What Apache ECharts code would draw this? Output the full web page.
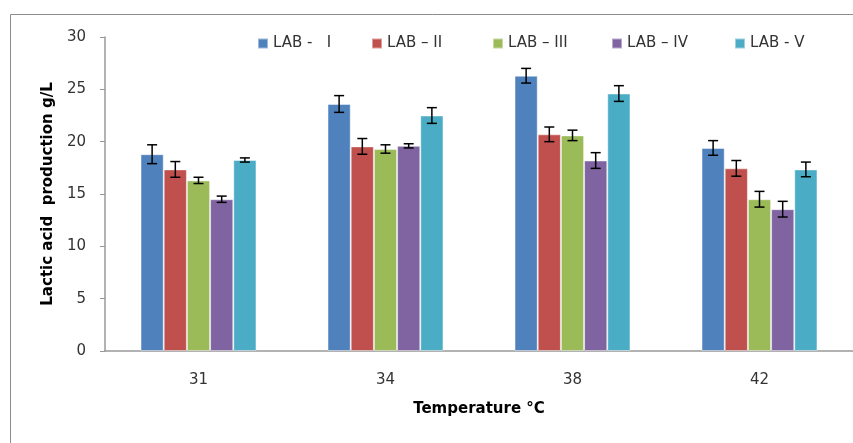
<!DOCTYPE html>
<html>
<head>
<meta charset="utf-8">
<script src="https://cdn.jsdelivr.net/npm/echarts@6/dist/echarts.min.js"></script>
<style>
  html, body { margin: 0; padding: 0; background: #fff; }
  #my-charts { width: 853px; height: 443px; }
</style>
</head>
<body>
<div id="my-charts"></div>
<script>
var temps = ['31', '34', '38', '42']
var labNames = ['LAB -   I', 'LAB \u2013 II', 'LAB \u2013 III', 'LAB \u2013 IV', 'LAB - V']
var labColors = ['#4F81BD', '#C0504D', '#9BBB59', '#8064A2', '#4BACC6']

var lab1 = [18.8, 23.6, 26.3, 19.4]
var lab2 = [17.35, 19.55, 20.7, 17.45]
var lab3 = [16.3, 19.3, 20.6, 14.5]
var lab4 = [14.5, 19.6, 18.2, 13.55]
var lab5 = [18.25, 22.5, 24.6, 17.35]

var err1 = [0.9, 0.8, 0.7, 0.7]
var err2 = [0.75, 0.75, 0.7, 0.75]
var err3 = [0.3, 0.4, 0.5, 0.75]
var err4 = [0.3, 0.2, 0.75, 0.75]
var err5 = [0.2, 0.75, 0.75, 0.7]

var yTicks = { min: 0, max: 30, interval: 5 }

var values = [lab1, lab2, lab3, lab4, lab5]
var errors = [err1, err2, err3, err4, err5]
var catGap = 0.38

var myChart = echarts.init(document.getElementById('my-charts'))

// one legend per item so the spacing follows the original
var legendX = [252, 366, 487, 606, 729]
var legends = labNames.map(function(n, i) {
	return {
		left: legendX[i],
		top: 31,
		itemWidth: 10,
		itemHeight: 10,
		itemGap: 6,
		icon: 'rect',
		data: [n],
		textStyle: { fontFamily: 'DejaVu Sans', fontSize: 15, color: '#333' }
	}
})

var series = []
values.forEach(function(v, i) {
	series.push({
		name: labNames[i],
		type: 'bar',
		data: v,
		barGap: '0%',
		barCategoryGap: (catGap * 100) + '%',
		itemStyle: {
			color: labColors[i],
			borderColor: 'rgba(255,255,255,0.45)',
			borderWidth: 1
		}
	})
})
values.forEach(function(v, i) {
	series.push({
		type: 'custom',
		name: labNames[i] + ' err',
		data: v.map(function(val, j) { return [j, val, errors[i][j]] }),
		z: 10,
		renderItem: function(params, api) {
			var x = api.value(0)
			var val = api.value(1)
			var e = api.value(2)
			var catW = api.size([1, 0])[0]
			var bw = catW * (1 - catGap) / 5
			var c = api.coord([x, val])
			var cx = c[0] + (i - 2) * bw
			var hi = api.coord([x, val + e])[1]
			var lo = api.coord([x, val - e])[1]
			var half = 5
			var st = { stroke: '#000', lineWidth: 1.5 }
			return {
				type: 'group',
				children: [
					{ type: 'line', shape: { x1: cx, y1: hi, x2: cx, y2: lo }, style: st },
					{ type: 'line', shape: { x1: cx - half, y1: hi, x2: cx + half, y2: hi }, style: st },
					{ type: 'line', shape: { x1: cx - half, y1: lo, x2: cx + half, y2: lo }, style: st }
				]
			}
		}
	})
})

var option = {
	animation: false,
	backgroundColor: '#fff',
	graphic: [{
		type: 'rect',
		left: 8,
		top: 12,
		shape: { width: 1000, height: 1000 },
		style: { fill: 'none', stroke: '#8c8c8c', lineWidth: 1 }
	}],
	legend: legends,
	grid: { left: 105, right: 0, top: 37, bottom: 92 },
	xAxis: {
		type: 'category',
		data: temps,
		name: 'Temperature \u00b0C',
		nameLocation: 'middle',
		nameGap: 51,
		nameTextStyle: { fontFamily: 'DejaVu Sans', fontSize: 15, fontWeight: 'bold', color: '#000' },
		axisLine: { lineStyle: { color: '#999', width: 1.5 } },
		axisTick: { show: false },
		axisLabel: { margin: 22, fontFamily: 'DejaVu Sans', fontSize: 15, color: '#333' }
	},
	yAxis: {
		type: 'value',
		min: yTicks.min,
		max: yTicks.max,
		interval: yTicks.interval,
		name: 'Lactic acid  production g/L',
		nameLocation: 'middle',
		nameGap: 49,
		nameTextStyle: { fontFamily: 'DejaVu Sans', fontSize: 15, fontWeight: 'bold', color: '#000' },
		axisLine: { show: true, lineStyle: { color: '#999', width: 1.5 } },
		axisTick: { show: true, length: 5, lineStyle: { color: '#999' } },
		splitLine: { show: false },
		axisLabel: { margin: 19, fontFamily: 'DejaVu Sans', fontSize: 15, color: '#333' }
	},
	series: series
}
myChart.setOption(option)
</script>
</body>
</html>
